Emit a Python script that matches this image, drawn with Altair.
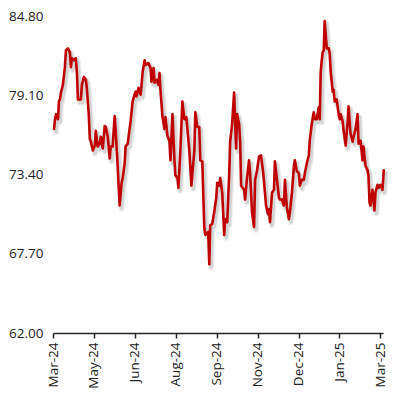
import json
import altair as alt
import pandas as pd

# Trading-day position (ticks every 31 trading days) and price
day = [0.8, 1.5, 2.3, 3.8, 4.5, 5.3, 6.0, 7.5, 9.0, 9.8, 11.3, 12.8, 13.6, 14.3, 15.8, 17.3, 18.1, 18.9,
       21.1, 21.9, 23.4, 24.9, 25.6, 27.1, 27.9, 28.7, 30.2, 31.7, 32.4, 33.9, 35.4, 36.2, 37.7, 39.2,
       40.0, 41.5, 43.0, 43.7, 45.2, 46.7, 47.5, 49.0, 49.8, 50.5, 52.0, 52.8, 54.3, 55.0, 56.6, 58.8,
       60.3, 61.8, 62.6, 63.3, 64.8, 66.4, 67.1, 67.9, 69.4, 70.1, 72.4, 73.9, 74.6, 76.2, 76.9, 78.4,
       79.9, 80.7, 81.4, 82.9, 84.4, 85.2, 86.7, 88.2, 89.0, 90.5, 92.0, 92.7, 94.3, 95.0, 96.5, 98.0,
       99.5, 101.0, 103.3, 104.8, 107.1, 107.8, 109.3, 110.8, 111.6, 113.1, 114.6, 115.4, 117.6, 118.4,
       119.1, 120.6, 122.1, 123.7, 124.4, 125.9, 126.7, 128.2, 129.7, 130.4, 132.0, 133.5, 134.2, 135.7,
       137.2, 138.7, 139.5, 141.0, 141.8, 142.5, 144.8, 145.5, 147.0, 148.5, 149.3, 150.8, 152.3, 153.1,
       154.6, 156.1, 157.6, 159.1, 160.6, 161.4, 162.9, 163.6, 164.4, 165.9, 167.4, 168.1, 169.7, 171.2,
       171.9, 173.4, 174.9, 175.7, 177.2, 178.7, 179.5, 181.0, 182.5, 183.2, 184.7, 186.2, 187.0, 188.5,
       190.0, 190.8, 192.3, 193.8, 194.5, 196.0, 197.5, 198.3, 199.8, 201.3, 202.1, 202.8, 203.6, 204.3,
       205.1, 205.8, 207.4, 208.9, 209.6, 210.4, 211.9, 212.6, 213.4, 214.9, 216.4, 217.2, 217.9, 219.4,
       220.2, 221.7, 223.2, 223.9, 225.4, 227.0, 227.7, 229.2, 230.7, 231.5, 233.0, 234.5, 235.2, 236.8,
       238.3, 239.0, 239.8, 240.5, 242.0, 242.8, 243.5, 244.3, 245.8, 246.6, 248.1, 249.6, 250.6]

price = [76.68, 77.38, 77.74, 77.38, 78.65, 78.80, 79.29, 79.85, 81.12, 82.32, 82.47, 82.18, 81.12, 81.76,
         81.62, 81.76, 80.77, 78.80, 78.80, 79.85, 80.42, 80.21, 79.64, 77.74, 75.97, 75.76, 75.13, 75.48,
         76.54, 75.41, 75.62, 76.11, 75.27, 76.89, 76.82, 76.11, 74.56, 75.41, 75.41, 77.60, 76.54, 74.00,
         72.44, 71.17, 72.80, 73.15, 74.21, 75.41, 75.62, 77.24, 78.65, 79.15, 79.36, 79.01, 79.64, 79.15,
         79.85, 80.77, 81.62, 81.27, 81.41, 81.05, 80.07, 81.05, 80.00, 80.21, 79.85, 80.70, 79.50, 77.60,
         76.68, 77.53, 76.18, 75.83, 74.42, 77.74, 74.42, 73.36, 73.15, 72.44, 75.13, 78.65, 77.38, 77.53,
         75.13, 72.59, 75.13, 77.88, 76.82, 76.82, 74.42, 74.35, 69.62, 69.06, 69.27, 66.94, 69.76, 69.83,
         70.68, 71.74, 72.80, 72.59, 73.15, 72.09, 69.06, 70.19, 69.97, 73.50, 75.76, 77.03, 79.29, 75.27,
         77.74, 77.03, 75.76, 72.59, 72.30, 71.60, 73.15, 74.42, 73.50, 70.68, 69.62, 73.01, 73.71, 74.70,
         74.77, 73.64, 72.09, 71.17, 70.54, 70.89, 69.97, 72.09, 72.30, 74.35, 73.01, 71.74, 71.60, 71.60,
         71.17, 73.01, 71.03, 70.19, 70.68, 72.09, 74.00, 74.42, 73.64, 73.50, 72.59, 73.01, 73.01, 73.50,
         74.21, 74.77, 75.83, 77.03, 77.88, 77.38, 77.38, 78.23, 77.38, 80.77, 81.62, 82.18, 82.32, 84.44,
         82.47, 82.47, 82.11, 80.77, 79.36, 79.50, 78.65, 78.80, 77.74, 77.38, 77.74, 77.24, 76.54, 75.48,
         77.17, 78.30, 76.33, 75.76, 76.11, 76.68, 77.74, 75.62, 75.83, 74.42, 75.41, 74.00, 73.71, 73.29,
         71.39, 71.17, 72.30, 71.60, 70.82, 72.09, 72.66, 72.44, 72.66, 72.30, 73.71]

tick_labels = ["Mar-24", "May-24", "Jun-24", "Aug-24", "Sep-24", "Nov-24", "Dec-24", "Jan-25", "Mar-25"]
tick_days = [31 * i for i in range(len(tick_labels))]
y_ticks = [62.0, 67.7, 73.4, 79.1, 84.8]

df = pd.DataFrame({"day": day, "price": price})

FONT = "Open Sans"
TXT = "#222222"
AXC = "#262626"

x_enc = alt.X(
    "day:Q",
    scale=alt.Scale(domain=[0, 250], nice=False, zero=False),
    axis=alt.Axis(
        values=tick_days,
        labelExpr=json.dumps(tick_labels) + "[round(datum.value / 31)]",
        labelAngle=-90,
        labelAlign="right",
        labelBaseline="middle",
        labelFont=FONT,
        labelFontSize=13.5,
        labelColor=TXT,
        labelPadding=4,
        tickSize=5,
        tickColor=AXC,
        tickWidth=1.5,
        domainColor=AXC,
        domainWidth=1.5,
        grid=False,
        title=None,
        labelOverlap=False,
    ),
)
y_enc = alt.Y(
    "price:Q",
    scale=alt.Scale(domain=[62, 84.8], nice=False, zero=False),
    axis=alt.Axis(
        values=y_ticks,
        format=".2f",
        labelFont=FONT,
        labelFontSize=13.5,
        labelColor=TXT,
        labelPadding=10,
        ticks=False,
        domain=False,
        grid=False,
        title=None,
        labelOverlap=False,
    ),
)

base = alt.Chart(df)
shadow1 = base.mark_line(color="#000000", opacity=0.07, strokeWidth=6, xOffset=2, yOffset=3,
                         strokeJoin="round", strokeCap="round").encode(x=x_enc, y=y_enc)
shadow2 = base.mark_line(color="#000000", opacity=0.10, strokeWidth=3.5, xOffset=2, yOffset=3,
                         strokeJoin="round", strokeCap="round").encode(x=x_enc, y=y_enc)
line = base.mark_line(color="#C00000", strokeWidth=2.6, strokeJoin="round",
                      strokeCap="round").encode(x=x_enc, y=y_enc)

chart = (
    alt.layer(shadow1, shadow2, line)
    .properties(
        width=330,
        height=317,
        autosize=alt.AutoSizeParams(type="none"),
        padding={"left": 45, "top": 8, "right": 5, "bottom": 55},
        background="white",
    )
    .configure_view(stroke=None)
)

chart.save("out.html", embed_options={"renderer": "svg", "actions": False})
